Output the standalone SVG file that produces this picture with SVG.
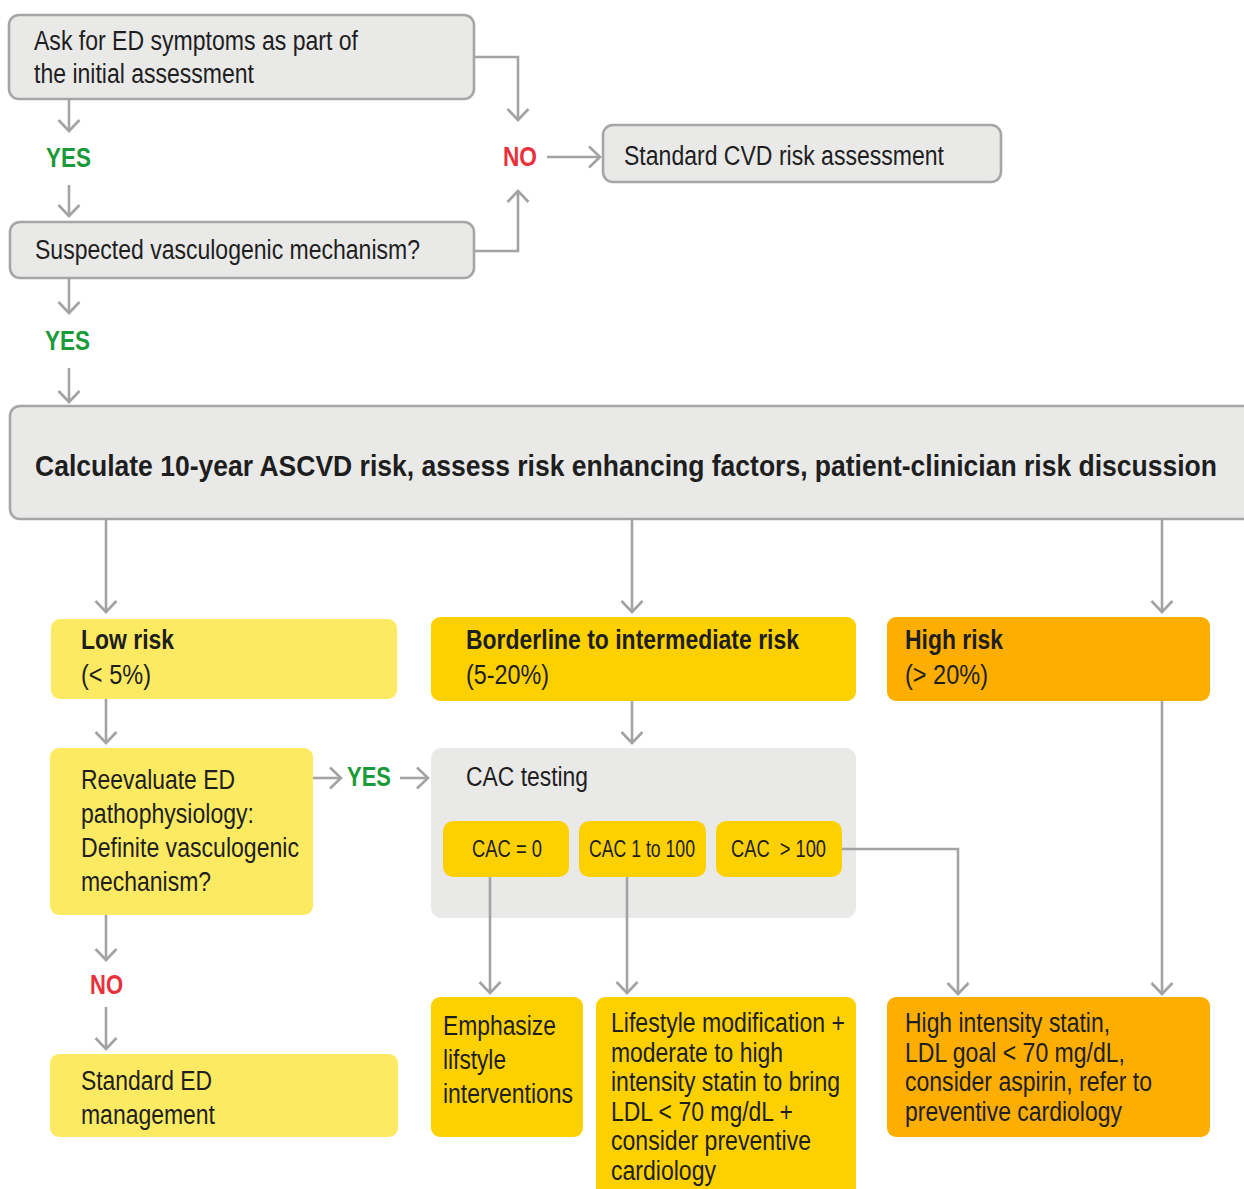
<svg xmlns="http://www.w3.org/2000/svg" width="1244" height="1189" viewBox="0 0 1244 1189">
<defs>
<marker id="ah" markerUnits="userSpaceOnUse" viewBox="0 0 14 24" refX="12" refY="12" markerWidth="14" markerHeight="24" orient="auto">
<path d="M1,1.5 L12,12 L1,22.5" fill="none" stroke="#a3a3a3" stroke-width="2.6"/>
</marker>
</defs>
<style>
text{font-family:"Liberation Sans Narrow","Liberation Sans",Arial,sans-serif;fill:#1e1e1e;font-size:27px}
.b{font-weight:bold}
.g{fill:#e9e9e8;stroke:#a6a6a6;stroke-width:2.6}
.cac{fill:#e9e9e8}
.y1{fill:#fcea62}
.y2{fill:#fdd100}
.o{fill:#fdae00}
.ln{fill:none;stroke:#a3a3a3;stroke-width:2.6}
.ar{marker-end:url(#ah)}
.yes{fill:#1b9a3a;font-weight:bold;font-size:28px}
.no{fill:#e8313a;font-weight:bold;font-size:28px}
.sm{font-size:23px}
</style>
<g id="n-ask">
<rect class="g" x="9" y="15" width="465" height="84" rx="10"/>
<text x="34" y="50" textLength="324" lengthAdjust="spacingAndGlyphs">Ask for ED symptoms as part of</text>
<text x="34" y="83" textLength="220" lengthAdjust="spacingAndGlyphs">the initial assessment</text>
</g>
<g id="n-cvd">
<rect class="g" x="603" y="125" width="398" height="57" rx="10"/>
<text x="624" y="165" textLength="320" lengthAdjust="spacingAndGlyphs">Standard CVD risk assessment</text>
</g>
<g id="n-susp">
<rect class="g" x="10" y="222" width="464" height="56" rx="10"/>
<text x="35" y="259" textLength="385" lengthAdjust="spacingAndGlyphs">Suspected vasculogenic mechanism?</text>
</g>
<g id="n-calc">
<rect class="g" x="10" y="406" width="1250" height="113" rx="10"/>
<text class="b" x="35" y="476" style="font-size:30px" textLength="1182" lengthAdjust="spacingAndGlyphs">Calculate 10-year ASCVD risk, assess risk enhancing factors, patient-clinician risk discussion</text>
</g>
<g id="n-low">
<rect class="y1" x="51" y="619" width="346" height="80" rx="9"/>
<text class="b" x="81" y="649" textLength="93" lengthAdjust="spacingAndGlyphs">Low risk</text>
<text x="81" y="684" textLength="70" lengthAdjust="spacingAndGlyphs">(&lt; 5%)</text>
</g>
<g id="n-border">
<rect class="y2" x="431" y="617" width="425" height="84" rx="9"/>
<text class="b" x="466" y="649" textLength="333" lengthAdjust="spacingAndGlyphs">Borderline to intermediate risk</text>
<text x="466" y="684" textLength="83" lengthAdjust="spacingAndGlyphs">(5-20%)</text>
</g>
<g id="n-high">
<rect class="o" x="887" y="617" width="323" height="84" rx="9"/>
<text class="b" x="905" y="649" textLength="98" lengthAdjust="spacingAndGlyphs">High risk</text>
<text x="905" y="684" textLength="83" lengthAdjust="spacingAndGlyphs">(&gt; 20%)</text>
</g>
<g id="n-reeval">
<rect class="y1" x="50" y="748" width="263" height="167" rx="9"/>
<text x="81" y="789" textLength="154" lengthAdjust="spacingAndGlyphs">Reevaluate ED</text>
<text x="81" y="823" textLength="173" lengthAdjust="spacingAndGlyphs">pathophysiology:</text>
<text x="81" y="857" textLength="218" lengthAdjust="spacingAndGlyphs">Definite vasculogenic</text>
<text x="81" y="891" textLength="130" lengthAdjust="spacingAndGlyphs">mechanism?</text>
</g>
<g id="n-cac">
<rect class="cac" x="431" y="748" width="425" height="170" rx="10"/>
<text x="466" y="786" textLength="122" lengthAdjust="spacingAndGlyphs">CAC testing</text>
</g>
<g id="n-cac0">
<rect class="y2" x="443" y="821" width="126" height="56" rx="10"/>
<text class="sm" x="472" y="857" textLength="70" lengthAdjust="spacingAndGlyphs">CAC = 0</text>
</g>
<g id="n-cac1">
<rect class="y2" x="579" y="821" width="127" height="56" rx="10"/>
<text class="sm" x="589" y="857" textLength="106" lengthAdjust="spacingAndGlyphs">CAC 1 to 100</text>
</g>
<g id="n-cac100">
<rect class="y2" x="716" y="821" width="126" height="56" rx="10"/>
<text class="sm" x="731" y="857" textLength="95" lengthAdjust="spacingAndGlyphs" xml:space="preserve">CAC  &gt; 100</text>
</g>
<g id="n-emph">
<rect class="y2" x="431" y="997" width="152" height="140" rx="9"/>
<text x="443" y="1035" textLength="113" lengthAdjust="spacingAndGlyphs">Emphasize</text>
<text x="443" y="1069" textLength="63" lengthAdjust="spacingAndGlyphs">lifstyle</text>
<text x="443" y="1103" textLength="130" lengthAdjust="spacingAndGlyphs">interventions</text>
</g>
<g id="n-life">
<rect class="y2" x="596" y="997" width="260" height="205" rx="9"/>
<text x="611" y="1032" textLength="234" lengthAdjust="spacingAndGlyphs">Lifestyle modification +</text>
<text x="611" y="1062" textLength="172" lengthAdjust="spacingAndGlyphs">moderate to high</text>
<text x="611" y="1091" textLength="229" lengthAdjust="spacingAndGlyphs">intensity statin to bring</text>
<text x="611" y="1121" textLength="182" lengthAdjust="spacingAndGlyphs">LDL &lt; 70 mg/dL +</text>
<text x="611" y="1150" textLength="200" lengthAdjust="spacingAndGlyphs">consider preventive</text>
<text x="611" y="1180" textLength="105" lengthAdjust="spacingAndGlyphs">cardiology</text>
</g>
<g id="n-hist">
<rect class="o" x="887" y="997" width="323" height="140" rx="9"/>
<text x="905" y="1032" textLength="205" lengthAdjust="spacingAndGlyphs">High intensity statin,</text>
<text x="905" y="1062" textLength="220" lengthAdjust="spacingAndGlyphs">LDL goal &lt; 70 mg/dL,</text>
<text x="905" y="1091" textLength="247" lengthAdjust="spacingAndGlyphs">consider aspirin, refer to</text>
<text x="905" y="1121" textLength="217" lengthAdjust="spacingAndGlyphs">preventive cardiology</text>
</g>
<g id="n-std">
<rect class="y1" x="50" y="1054" width="348" height="83" rx="9"/>
<text x="81" y="1090" textLength="131" lengthAdjust="spacingAndGlyphs">Standard ED</text>
<text x="81" y="1124" textLength="134" lengthAdjust="spacingAndGlyphs">management</text>
</g>
<g id="connectors">
<path class="ln ar" d="M474,57 H518 V120"/>
<path class="ln ar" d="M474,251 H518 V191"/>
<path class="ln ar" d="M69,99 V131"/>
<path class="ln ar" d="M69,185 V216"/>
<path class="ln ar" d="M69,278 V313"/>
<path class="ln ar" d="M69,368 V402"/>
<path class="ln ar" d="M547,157 H600"/>
<path class="ln ar" d="M106,519 V612"/>
<path class="ln ar" d="M632,519 V612"/>
<path class="ln ar" d="M1162,519 V612"/>
<path class="ln ar" d="M106,699 V743"/>
<path class="ln ar" d="M632,701 V743"/>
<path class="ln ar" d="M1162,701 V994"/>
<path class="ln ar" d="M313,778 H341"/>
<path class="ln ar" d="M400,778 H428"/>
<path class="ln ar" d="M842,849 H958 V994"/>
<path class="ln ar" d="M490,877 V993"/>
<path class="ln ar" d="M627,877 V993"/>
<path class="ln ar" d="M106,915 V960"/>
<path class="ln ar" d="M106,1007 V1049"/>
<text class="yes" x="46" y="167" textLength="45" lengthAdjust="spacingAndGlyphs">YES</text>
<text class="yes" x="45" y="350" textLength="45" lengthAdjust="spacingAndGlyphs">YES</text>
<text class="no" x="503" y="166" textLength="34" lengthAdjust="spacingAndGlyphs">NO</text>
<text class="yes" x="347" y="786" textLength="44" lengthAdjust="spacingAndGlyphs">YES</text>
<text class="no" x="90" y="994" textLength="33" lengthAdjust="spacingAndGlyphs">NO</text>
</g>
</svg>
